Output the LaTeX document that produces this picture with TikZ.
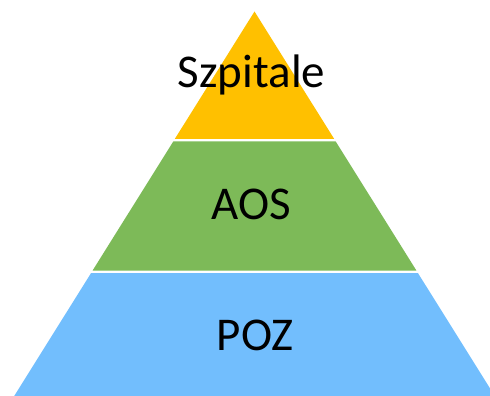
\documentclass[tikz,border=0pt]{standalone}
\usepackage{fontspec}
\setmainfont{Carlito}
\definecolor{layeryellow}{RGB}{255,192,0}
\definecolor{layergreen}{RGB}{125,186,88}
\definecolor{layerblue}{RGB}{114,190,253}
\begin{document}
\begin{tikzpicture}[x=1pt,y=-1pt,
  lbl/.style={anchor=base,inner sep=0pt,font=\fontsize{47}{47}\selectfont,text=black}]
\useasboundingbox (0,0) rectangle (490,396);
\begin{scope}
\clip (0,0) rectangle (490,396);
\fill[layeryellow] (254.5,11.5) -- (334.1,138.8) -- (174.9,138.8) -- cycle;
\fill[layergreen] (173.4,141.3) -- (335.6,141.3) -- (416.4,270.5) -- (92.6,270.5) -- cycle;
\fill[layerblue] (91.1,273.0) -- (417.9,273.0) -- (494.8,396) -- (14.2,396) -- cycle;
\end{scope}
\node[lbl] (szpitale) at (251.5,88) {Szpitale};
\node[lbl] (aos) at (251,219) {AOS};
\node[lbl] (poz) at (255,350) {POZ};
\end{tikzpicture}
\end{document}
